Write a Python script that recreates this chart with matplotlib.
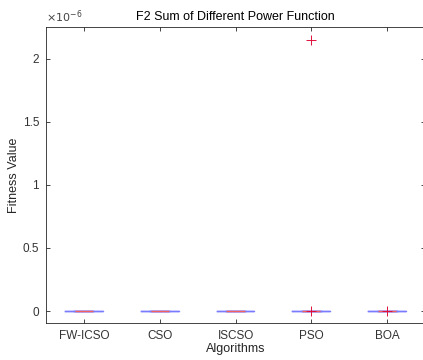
import numpy as np
import matplotlib
matplotlib.use('Agg')
import matplotlib.pyplot as plt
from matplotlib.ticker import FuncFormatter

# algorithm names and fitness results (30 runs, mostly converged to 0)
algorithms = ['FW-ICSO', 'CSO', 'ISCSO', 'PSO', 'BOA']
fw_icso = [0.0] * 30
cso = [0.0] * 30
iscso = [0.0] * 30
pso = [0.0] * 28 + [1.0e-9, 2.15e-6]
boa = [0.0] * 29 + [1.0e-9]
data = [fw_icso, cso, iscso, pso, boa]

plt.rcParams['font.family'] = ['Liberation Sans', 'DejaVu Sans']
gray = '#262626'

fig = plt.figure(figsize=(4.23, 3.6), dpi=100)
ax = fig.add_axes([46 / 423, 37 / 360, 379 / 423, 296 / 360])

bp = ax.boxplot(data, positions=range(1, 6), widths=0.5, whis=1.5,
                boxprops=dict(color='#7b7bff', lw=1.0),
                medianprops=dict(color='#f06060', lw=1.0),
                whiskerprops=dict(color='black', lw=0.6, linestyle='--'),
                capprops=dict(color='#7b7bff', lw=1.0),
                flierprops=dict(marker='+', markeredgecolor='#e0103a',
                                markersize=7, markeredgewidth=0.7, linestyle='none'))
# median drawn over the middle part of the box
for med in bp['medians']:
    x0, x1 = med.get_xdata()[:2]
    c = (x0 + x1) / 2
    med.set_xdata([c - 0.12, c + 0.12])
    med.set_zorder(5)
for fl in bp['fliers']:
    fl.set_zorder(6)

ax.set_xlim(0.5, 5.5)
ax.set_ylim(-0.095e-6, 2.25e-6)
ax.set_xticks(range(1, 6))
ax.set_xticklabels(algorithms)
ax.set_yticks([0, 0.5e-6, 1e-6, 1.5e-6, 2e-6])
ax.yaxis.set_major_formatter(FuncFormatter(lambda v, p: '%g' % round(v * 1e6, 3)))

ax.tick_params(direction='in', length=3, width=0.6, colors=gray, labelsize=8.5,
               top=True, right=True, pad=5)
ax.tick_params(axis='x', labelcolor='#333333')
ax.tick_params(axis='y', labelcolor='#333333')
for s in ax.spines.values():
    s.set_color(gray)
    s.set_linewidth(0.6)

ax.set_title('F2 Sum of Different Power Function', fontsize=9, color='black', pad=5)
ax.set_xlabel('Algorithms', fontsize=9, color=gray, labelpad=1)
ax.set_ylabel('Fitness Value', fontsize=9, color=gray, labelpad=2)
ax.text(0.0, 1.008, r'$\times10^{-6}$', transform=ax.transAxes, fontsize=8,
        color='#444444', ha='left', va='bottom')

fig.savefig('out.png', dpi=100)
